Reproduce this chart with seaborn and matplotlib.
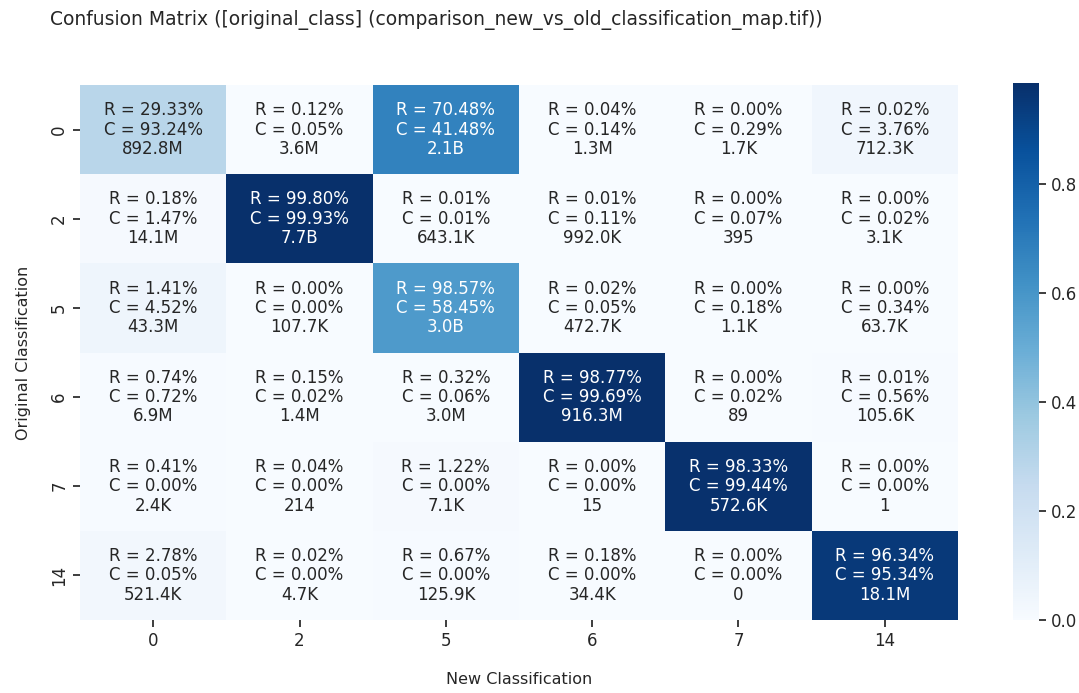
import numpy as np
import pandas as pd
import matplotlib
matplotlib.use("Agg")
import matplotlib.pyplot as plt
import seaborn as sns

classes = ["0", "2", "5", "6", "7", "14"]

# Row-normalised percentages (R)
row_pct = [
    [29.33, 0.12, 70.48, 0.04, 0.00, 0.02],
    [0.18, 99.80, 0.01, 0.01, 0.00, 0.00],
    [1.41, 0.00, 98.57, 0.02, 0.00, 0.00],
    [0.74, 0.15, 0.32, 98.77, 0.00, 0.01],
    [0.41, 0.04, 1.22, 0.00, 98.33, 0.00],
    [2.78, 0.02, 0.67, 0.18, 0.00, 96.34],
]

# Column-normalised percentages (C)
col_pct = [
    [93.24, 0.05, 41.48, 0.14, 0.29, 3.76],
    [1.47, 99.93, 0.01, 0.11, 0.07, 0.02],
    [4.52, 0.00, 58.45, 0.05, 0.18, 0.34],
    [0.72, 0.02, 0.06, 99.69, 0.02, 0.56],
    [0.00, 0.00, 0.00, 0.00, 99.44, 0.00],
    [0.05, 0.00, 0.00, 0.00, 0.00, 95.34],
]

# Pixel counts
counts = [
    [892.8e6, 3.6e6, 2.1e9, 1.3e6, 1.7e3, 712.3e3],
    [14.1e6, 7.7e9, 643.1e3, 992.0e3, 395, 3.1e3],
    [43.3e6, 107.7e3, 3.0e9, 472.7e3, 1.1e3, 63.7e3],
    [6.9e6, 1.4e6, 3.0e6, 916.3e6, 89, 105.6e3],
    [2.4e3, 214, 7.1e3, 15, 572.6e3, 1],
    [521.4e3, 4.7e3, 125.9e3, 34.4e3, 0, 18.1e6],
]

# Cell shading
shade = [
    [0.285, 0.002, 0.675, 0.001, 0.000, 0.037],
    [0.015, 0.985, 0.0001, 0.001, 0.0007, 0.0002],
    [0.045, 0.000, 0.580, 0.0005, 0.0018, 0.0034],
    [0.0074, 0.0015, 0.0032, 0.985, 0.0002, 0.0056],
    [0.0041, 0.0004, 0.0122, 0.000, 0.980, 0.000],
    [0.0278, 0.0002, 0.0067, 0.0018, 0.000, 0.950],
]

title_text = "Confusion Matrix ([original_class] (comparison_new_vs_old_classification_map.tif))"


def fmt_count(v):
    if v >= 1e9:
        return f"{v/1e9:.1f}B"
    if v >= 1e6:
        return f"{v/1e6:.1f}M"
    if v >= 1e3:
        return f"{v/1e3:.1f}K"
    return f"{int(round(v))}"


annot = np.array([
    [f"R = {row_pct[i][j]:.2f}%\nC = {col_pct[i][j]:.2f}%\n{fmt_count(counts[i][j])}"
     for j in range(len(classes))]
    for i in range(len(classes))
])

df = pd.DataFrame(shade, index=classes, columns=classes)

sns.set_theme(style="white")
plt.rcParams['font.family'] = ['DejaVu Sans']

fig = plt.figure(figsize=(10.79, 6.93), dpi=100)
W, H = 1079, 693
ax = fig.add_axes([80 / W, (H - 620) / H, (958 - 80) / W, (620 - 85) / H])
cax = fig.add_axes([1013 / W, (H - 620) / H, 26 / W, (620 - 83) / H])

sns.heatmap(df, annot=annot, fmt="", cmap="Blues", ax=ax, cbar_ax=cax,
            annot_kws={"fontsize": 12, "linespacing": 1.1})

ax.set_xlabel("New Classification", fontsize=11.5, labelpad=16)
ax.set_ylabel("Original Classification", fontsize=11.5, labelpad=14)
ax.tick_params(axis="both", labelsize=12, length=5, left=True, bottom=True)
cax.tick_params(labelsize=12, length=5, right=True)
cax.set_yticks([0.0, 0.2, 0.4, 0.6, 0.8])

fig.text(50 / W, 1 - 20 / H, title_text, ha="left", va="center", fontsize=13.5)

fig.savefig("out.png", dpi=100)
